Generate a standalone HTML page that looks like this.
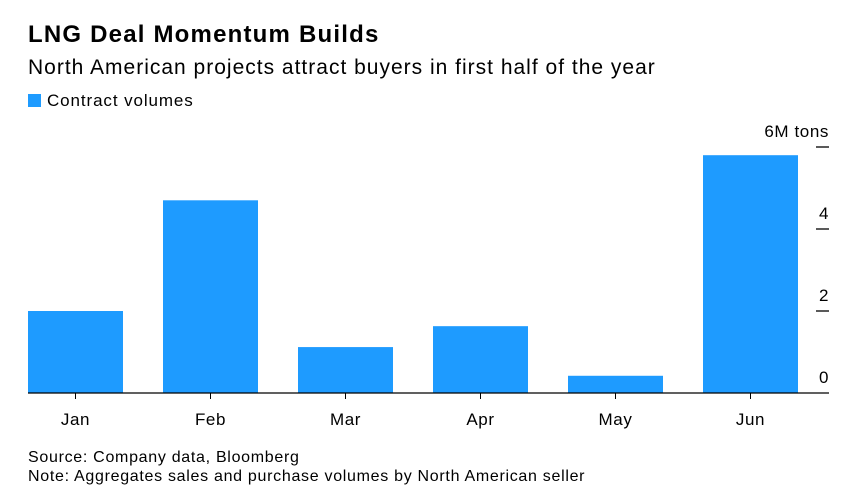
<!DOCTYPE html>
<html><head><meta charset="utf-8"><style>
body{margin:0;width:867px;height:497px;background:#fff;font-family:"Liberation Sans",sans-serif;color:#000;overflow:hidden;position:relative}
.t{position:absolute;white-space:nowrap}
</style></head><body>
<div class="t" style="left:28px;top:21px;font-size:24px;letter-spacing:1.2px;font-weight:bold">LNG Deal Momentum Builds</div>
<div class="t" style="left:28px;top:56px;font-size:21px;letter-spacing:1px">North American projects attract buyers in first half of the year</div>
<div class="t" style="left:28px;top:91px;font-size:17px;letter-spacing:0.9px"><span style="display:inline-block;width:13px;height:13px;background:#1e9bff;margin-right:6px;vertical-align:-1px"></span>Contract volumes</div>
<svg id="chart" width="867" height="497" style="position:absolute;left:0;top:0"></svg>
<div class="t" style="left:28px;top:449px;font-size:16px;letter-spacing:0.7px">Source: Company data, Bloomberg</div>
<div class="t" style="left:28px;top:468px;font-size:16px;letter-spacing:0.7px">Note: Aggregates sales and purchase volumes by North American seller</div>
<script>
const categories=["Jan","Feb","Mar","Apr","May","Jun"];
const values=[2.0,4.7,1.12,1.63,0.42,5.8];
const tickValues=[0,2,4,6];
const tickLabels=["0","2","4","6M tons"];
const ns="http://www.w3.org/2000/svg";
const svg=document.getElementById("chart");
const y0=393,ppu=41,left=28,band=135,bw=95;
const y=v=>y0-v*ppu;
const x=i=>left+i*band;
function mk(t,a){const e=document.createElementNS(ns,t);for(const k in a)e.setAttribute(k,a[k]);svg.appendChild(e);return e;}
values.forEach((v,i)=>{
 const r=mk("rect",{x:x(i),y:y(v),width:bw,height:y0-y(v),fill:"#1e9bff"});
 
 
 const tk=mk("line",{x1:x(i)+bw/2,x2:x(i)+bw/2,y1:y0,y2:y0+6,stroke:"#000","stroke-width":1});
 
 
 const l=mk("text",{x:x(i)+bw/2,y:y0+32,"text-anchor":"middle","font-size":17,"letter-spacing":0.6,"font-family":"Liberation Sans"});
 l.textContent=categories[i];
 
 
});
tickValues.forEach((v,i)=>{
 if(v>0){const t=mk("line",{x1:816,x2:829,y1:y(v),y2:y(v),stroke:"#000","stroke-width":1.3});
 
 }
 const l=mk("text",{x:829,y:y(v)-10,"text-anchor":"end","font-size":17,"letter-spacing":0.6,"font-family":"Liberation Sans"});
 l.textContent=tickLabels[i];
 
 
});
const ax=mk("line",{x1:left,x2:829,y1:y0,y2:y0,stroke:"#000","stroke-width":1.3});


</script>
</body></html>
